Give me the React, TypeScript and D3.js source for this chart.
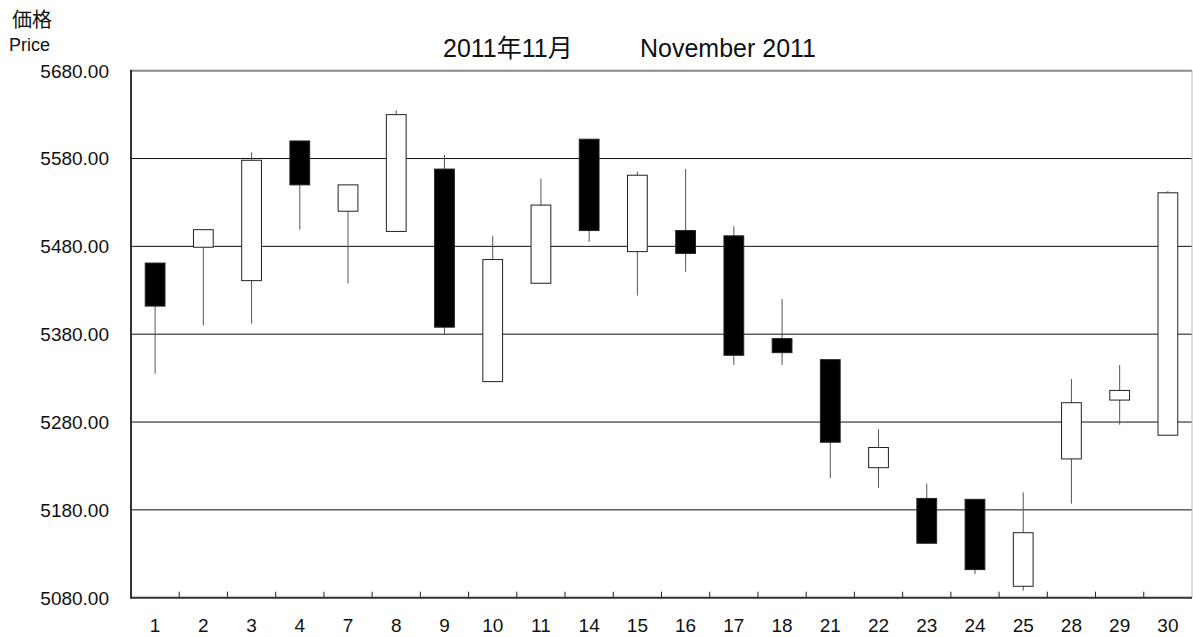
import React from 'react';
import * as d3 from 'd3';

const days = ['1', '2', '3', '4', '7', '8', '9', '10', '11', '14', '15', '16', '17', '18', '21', '22', '23', '24', '25', '28', '29', '30'];
const opens = [5461, 5479, 5441, 5600, 5520, 5497, 5568, 5326, 5438, 5602, 5474, 5498, 5492, 5375, 5351, 5228, 5193, 5192, 5093, 5238, 5305, 5265];
const highs = [5461, 5499, 5587, 5600, 5550, 5635, 5584, 5492, 5557, 5602, 5565, 5568, 5503, 5420, 5351, 5272, 5210, 5192, 5200, 5329, 5345, 5543];
const lows = [5335, 5390, 5392, 5499, 5438, 5497, 5380, 5326, 5438, 5485, 5424, 5451, 5345, 5345, 5216, 5205, 5142, 5107, 5088, 5187, 5277, 5265];
const closes = [5412, 5499, 5578, 5550, 5550, 5630, 5388, 5465, 5527, 5498, 5561, 5472, 5356, 5359, 5257, 5251, 5142, 5112, 5154, 5302, 5316, 5541];
const yTicks = [5080, 5180, 5280, 5380, 5480, 5580, 5680];

const W = 1193;
const H = 637;
const left = 131;
const right = 1192;
const top = 70.7;
const bottom = 597.7;
const font = '"Liberation Sans", "Noto Sans CJK JP", sans-serif';

export default function App() {
  const x = d3.scaleBand<string>().domain(days).range([left, right]).padding(0);
  const y = d3.scaleLinear().domain([5080, 5680]).range([bottom, top]);
  const bw = x.bandwidth() * 0.41;

  return (
    <svg width={W} height={H} style={{ position: 'absolute', left: 0, top: 0, background: '#fff' }} fontFamily={font}>
      <text x={12} y={27} fontSize={20} fill="#111" fontFamily='"Noto Sans CJK JP", sans-serif'>価格</text>
      <text x={9} y={51} fontSize={18} fill="#111">Price</text>
      <text x={443} y={57} fontSize={25} fill="#111">2011年11月</text>
      <text x={640} y={57} fontSize={25} fill="#111">November 2011</text>

      {/* 横線 */}
      {yTicks.slice(1, -1).map((t) => (
        <line key={t} x1={left} x2={right} y1={y(t)} y2={y(t)} stroke="#111" strokeWidth={1} />
      ))}
      <line x1={left} x2={right} y1={top} y2={top} stroke="#888" strokeWidth={2} />
      <line x1={right} x2={right} y1={top} y2={bottom} stroke="#bbb" strokeWidth={1} />

      {yTicks.map((t) => (
        <text key={t} x={109} y={y(t)} dy="0.36em" fontSize={19} textAnchor="end" fill="#111">
          {t.toFixed(2)}
        </text>
      ))}

      {days.map((d, i) => {
        const cx = x(d)! + x.bandwidth() / 2;
        const up = closes[i] >= opens[i];
        const bt = y(Math.max(opens[i], closes[i]));
        const bb = y(Math.min(opens[i], closes[i]));
        return (
          <g key={d}>
            <line x1={cx} x2={cx} y1={y(highs[i])} y2={y(lows[i])} stroke="#555" strokeWidth={1} />
            <rect
              x={cx - bw / 2}
              y={bt}
              width={bw}
              height={Math.max(bb - bt, 1)}
              fill={up ? '#fff' : '#000'}
              stroke="#222"
              strokeWidth={1}
            />
            <text x={cx} y={632} fontSize={19} textAnchor="middle" fill="#111">{d}</text>
          </g>
        );
      })}

      {/* x 軸の目盛り */}
      {days.slice(1).map((d) => (
        <line key={d} x1={x(d)!} x2={x(d)!} y1={bottom} y2={bottom - 6} stroke="#222" strokeWidth={1} />
      ))}
      <line x1={left} x2={right} y1={bottom} y2={bottom} stroke="#333" strokeWidth={2} />
      <line x1={left} x2={left} y1={top - 1} y2={bottom + 1} stroke="#333" strokeWidth={2} />
    </svg>
  );
}
